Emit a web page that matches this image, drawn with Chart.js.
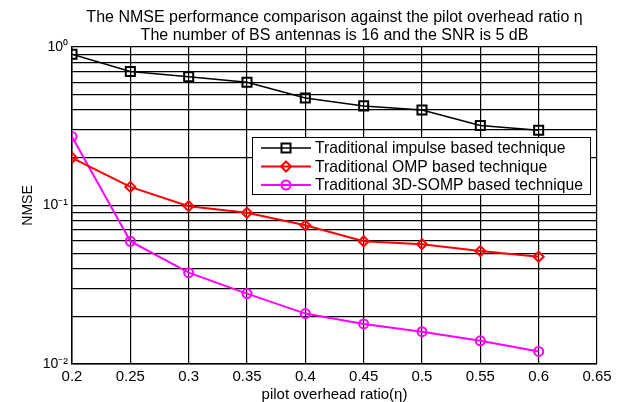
<!DOCTYPE html>
<html>
<head>
<meta charset="utf-8">
<script src="https://cdn.jsdelivr.net/npm/chart.js@4/dist/chart.umd.min.js"></script>
<style>
  html, body { margin: 0; padding: 0; background: #fff; }
  #wrap { width: 626px; height: 402px; }
</style>
</head>
<body>
<div id="wrap"><canvas id="myChart"></canvas></div>
<script>
const ratios = [0.2, 0.25, 0.3, 0.35, 0.4, 0.45, 0.5, 0.55, 0.6];
const impulseNmse = [0.90, 0.70, 0.65, 0.60, 0.477, 0.425, 0.40, 0.32, 0.298];
const ompNmse = [0.20, 0.131, 0.099, 0.090, 0.075, 0.0595, 0.057, 0.0516, 0.0475];
const somp3dNmse = [0.272, 0.0595, 0.0377, 0.0278, 0.0208, 0.0179, 0.016, 0.014, 0.012];
const seriesNames = ["Traditional impulse based technique", "Traditional OMP based technique", "Traditional 3D-SOMP based technique"];
const xTicks = [0.2, 0.25, 0.3, 0.35, 0.4, 0.45, 0.5, 0.55, 0.6, 0.65];
const yDecades = [0.01, 0.1, 1];
const yTickLabels = ["10\u207B\u00B2", "10\u207B\u00B9", "10\u2070"];
const titleLines = ["The NMSE performance comparison against the pilot overhead ratio \u03B7", "The number of BS antennas is 16 and the SNR is 5 dB"];

const font = "'Liberation Sans', Arial, sans-serif";

function points(values) {
  return ratios.map((r, i) => ({x: r, y: values[i]}));
}

// legend drawn inside the plot, like the matlab one
const boxLegend = {
  id: 'boxLegend',
  afterDatasetsDraw(chart) {
    const ctx = chart.ctx;
    const left = 252, top = 137, w = 338, h = 57;
    ctx.save();
    ctx.fillStyle = '#fff';
    ctx.fillRect(left, top, w, h);
    ctx.strokeStyle = '#000';
    ctx.lineWidth = 1;
    ctx.strokeRect(left + 0.5, top + 0.5, w, h);
    chart.data.datasets.forEach((ds, i) => {
      const y = top + 11 + i * 18.5;
      ctx.strokeStyle = ds.borderColor;
      ctx.lineWidth = ds.borderWidth;
      ctx.beginPath();
      ctx.moveTo(left + 9, y);
      ctx.lineTo(left + 59, y);
      ctx.stroke();
      ctx.lineWidth = ds.pointBorderWidth;
      ctx.beginPath();
      const cx = left + 34;
      if (ds.pointStyle === 'rect') {
        ctx.rect(cx - 4.5, y - 4.5, 9, 9);
      } else if (ds.pointStyle === 'rectRot') {
        ctx.moveTo(cx, y - 5); ctx.lineTo(cx + 5, y); ctx.lineTo(cx, y + 5); ctx.lineTo(cx - 5, y); ctx.closePath();
      } else {
        ctx.arc(cx, y, 4.5, 0, Math.PI * 2);
      }
      ctx.stroke();
      ctx.fillStyle = '#000';
      ctx.font = '15.7px ' + font;
      ctx.textBaseline = 'middle';
      ctx.fillText(ds.label, left + 63, y + 1);
    });
    ctx.restore();
  }
};

new Chart("myChart", {
  type: "line",
  data: {
    datasets: [{
      label: seriesNames[0],
      data: points(impulseNmse),
      borderColor: "#000000",
      borderWidth: 1.5,
      pointStyle: "rect",
      pointRadius: 6.4,
      pointBorderWidth: 2,
      pointBackgroundColor: "rgba(0,0,0,0)",
      pointBorderColor: "#000000"
    }, {
      label: seriesNames[1],
      data: points(ompNmse),
      borderColor: "#ff0000",
      borderWidth: 2,
      pointStyle: "rectRot",
      pointRadius: 5,
      pointBorderWidth: 2,
      pointBackgroundColor: "rgba(0,0,0,0)",
      pointBorderColor: "#ff0000"
    }, {
      label: seriesNames[2],
      data: points(somp3dNmse),
      borderColor: "#ff00ff",
      borderWidth: 2,
      pointStyle: "circle",
      pointRadius: 4.5,
      pointBorderWidth: 2,
      pointBackgroundColor: "rgba(0,0,0,0)",
      pointBorderColor: "#ff00ff"
    }]
  },
  options: {
    responsive: true,
    maintainAspectRatio: false,
    animation: false,
    layout: {padding: {left: 0, right: 29, top: 0, bottom: 0}},
    plugins: {
      legend: {display: false},
      tooltip: {enabled: false},
      title: {
        display: true,
        text: titleLines,
        fullSize: false,
        color: "#000",
        font: {family: font, size: 16, weight: "normal", lineHeight: 1.125},
        padding: {top: 8.5, bottom: 2.5}
      }
    },
    scales: {
      x: {
        type: "linear",
        min: 0.2,
        max: 0.65,
        afterBuildTicks(scale) {
          scale.ticks = xTicks.map(v => ({value: v}));
        },
        afterFit(scale) { scale.height = 38; },
        ticks: {
          color: "#000",
          font: {family: font, size: 15, lineHeight: 1},
          padding: 5,
          maxRotation: 0,
          autoSkip: false,
          callback: v => String(Number(v.toFixed(2)))
        },
        grid: {color: "#000", lineWidth: 1.2, drawTicks: false},
        border: {display: true, color: "#000", width: 1.5},
        title: {
          display: true,
          text: "pilot overhead ratio(\u03B7)",
          color: "#000",
          font: {family: font, size: 15, lineHeight: 1},
          padding: {top: 0, bottom: 0}
        }
      },
      y: {
        type: "logarithmic",
        min: 0.01,
        max: 1,
        afterBuildTicks(scale) {
          const t = [];
          [0.01, 0.1].forEach(d => {
            for (let k = 1; k < 10; k++) t.push({value: d * k});
          });
          t.push({value: 1});
          scale.ticks = t;
        },
        afterFit(scale) { scale.width = 72; },
        ticks: {
          color: "#000",
          font: {family: font, size: 14},
          padding: 4,
          autoSkip: false,
          callback(v) {
            const i = yDecades.findIndex(d => Math.abs(d - v) < d * 1e-6);
            return i >= 0 ? yTickLabels[i] : "";
          }
        },
        grid: {color: "#000", lineWidth: 1.2, drawTicks: false},
        border: {display: true, color: "#000", width: 1.5},
        title: {
          display: true,
          text: "NMSE",
          color: "#000",
          font: {family: font, size: 14, lineHeight: 1},
          padding: {top: 21, bottom: 0}
        }
      }
    }
  },
  plugins: [boxLegend]
});
</script>
</body>
</html>
